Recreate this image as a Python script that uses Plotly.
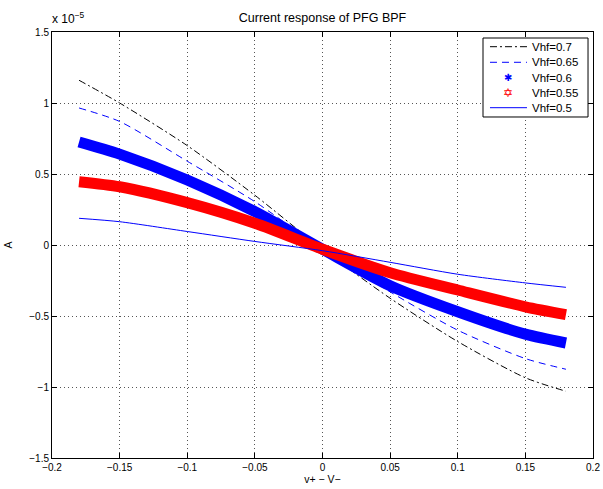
import plotly.graph_objects as go

# Data (current in units of 1e-5 A)
v_diff = [-0.18, -0.15, -0.1, -0.05, 0.0, 0.05, 0.1, 0.15, 0.18]
i_vhf_070 = [1.16, 1.00, 0.70, 0.35, -0.03, -0.375, -0.68, -0.935, -1.03]
i_vhf_065 = [0.965, 0.87, 0.59, 0.305, -0.03, -0.33, -0.60, -0.80, -0.875]
i_vhf_060 = [0.725, 0.64, 0.458, 0.235, -0.03, -0.287, -0.47, -0.628, -0.69]
i_vhf_055 = [0.446, 0.41, 0.298, 0.153, -0.03, -0.195, -0.317, -0.435, -0.49]
i_vhf_050 = [0.188, 0.164, 0.095, 0.025, -0.04, -0.122, -0.206, -0.267, -0.298]

series_names = ["Vhf=0.7", "Vhf=0.65", "Vhf=0.6", "Vhf=0.55", "Vhf=0.5"]
x_ticks = [-0.2, -0.15, -0.1, -0.05, 0, 0.05, 0.1, 0.15, 0.2]
y_ticks = [-1.5, -1, -0.5, 0, 0.5, 1, 1.5]


def fmt(t):
    s = ("%g" % t)
    return s.replace("-", "\u2212")


FONT = "Liberation Sans, Arial, Helvetica, sans-serif"
BLUE = "#0000ff"
RED = "#ff0000"
DASHDOT = "7px,3px,2px,3px"
DASH = "7px,5px"

fig = go.Figure()

fig.add_trace(go.Scatter(x=v_diff, y=i_vhf_070, mode="lines", name=series_names[0], showlegend=False,
                         line=dict(color="black", width=1, dash=DASHDOT, shape="spline", smoothing=0.7)))
fig.add_trace(go.Scatter(x=v_diff, y=i_vhf_065, mode="lines", name=series_names[1], showlegend=False,
                         line=dict(color=BLUE, width=1, dash=DASH, shape="spline", smoothing=0.7)))
fig.add_trace(go.Scatter(x=v_diff, y=i_vhf_060, mode="lines", name=series_names[2], showlegend=False,
                         line=dict(color=BLUE, width=11, shape="spline", smoothing=0.7)))
fig.add_trace(go.Scatter(x=v_diff, y=i_vhf_055, mode="lines", name=series_names[3], showlegend=False,
                         line=dict(color=RED, width=11, shape="spline", smoothing=0.7)))
fig.add_trace(go.Scatter(x=v_diff, y=i_vhf_050, mode="lines", name=series_names[4], showlegend=False,
                         line=dict(color=BLUE, width=1, shape="spline", smoothing=0.7)))

axis_common = dict(
    showline=True, linecolor="black", linewidth=1, mirror="ticks",
    ticks="inside", ticklen=5, tickcolor="black",
    showgrid=True, gridcolor="#555555", griddash="1px,3px", gridwidth=1,
    zeroline=False, tickfont=dict(family=FONT, size=10, color="black"),
    automargin=False,
)

fig.update_xaxes(range=[-0.2, 0.2], tickvals=x_ticks, ticktext=[fmt(t) for t in x_ticks],
                 title=dict(text="v+ \u2212 V\u2212", font=dict(family=FONT, size=10.5, color="black"), standoff=0),
                 **axis_common)
fig.update_yaxes(range=[-1.5, 1.5], tickvals=y_ticks, ticktext=[fmt(t) for t in y_ticks],
                 title=dict(text="A", font=dict(family=FONT, size=10.5, color="black"), standoff=14),
                 **axis_common)

# ---- manual legend (MATLAB-style compact box) ----
L_X0, L_X1 = 0.7967, 0.9908
L_Y0, L_Y1 = 0.8005, 0.9859
row_y = [0.9655, 0.9289, 0.8927, 0.8575, 0.8223]
samp_x0, samp_x1, samp_mid, text_x = 0.8096, 0.878, 0.8429, 0.8835

shapes = [dict(type="rect", xref="paper", yref="paper", x0=L_X0, x1=L_X1, y0=L_Y0, y1=L_Y1,
               line=dict(color="black", width=1), fillcolor="white", layer="above")]
shapes.append(dict(type="line", xref="paper", yref="paper", x0=samp_x0, x1=samp_x1, y0=row_y[0], y1=row_y[0],
                   line=dict(color="black", width=1, dash=DASHDOT), layer="above"))
shapes.append(dict(type="line", xref="paper", yref="paper", x0=samp_x0, x1=samp_x1, y0=row_y[1], y1=row_y[1],
                   line=dict(color=BLUE, width=1, dash=DASH), layer="above"))
shapes.append(dict(type="line", xref="paper", yref="paper", x0=samp_x0, x1=samp_x1, y0=row_y[4], y1=row_y[4],
                   line=dict(color=BLUE, width=1), layer="above"))

annotations = [dict(text="x 10<sup>\u22125</sup>", xref="paper", yref="paper", x=0, y=1,
                    xanchor="left", yanchor="bottom", yshift=4, xshift=-2, showarrow=False,
                    font=dict(family=FONT, size=12, color="black"))]
for name, yy in zip(series_names, row_y):
    annotations.append(dict(text=name, xref="paper", yref="paper", x=text_x, y=yy,
                            xanchor="left", yanchor="middle", showarrow=False,
                            font=dict(family=FONT, size=11.5, color="black")))
annotations.append(dict(text="\u2731", xref="paper", yref="paper", x=samp_mid, y=row_y[2],
                        xanchor="center", yanchor="middle", showarrow=False,
                        font=dict(family="DejaVu Sans", size=10, color=BLUE)))
annotations.append(dict(text="\u2721", xref="paper", yref="paper", x=samp_mid, y=row_y[3],
                        xanchor="center", yanchor="middle", showarrow=False,
                        font=dict(family="DejaVu Sans", size=12, color=RED)))

fig.update_layout(
    width=603, height=489,
    margin=dict(l=52, r=10, t=32, b=31),
    plot_bgcolor="white", paper_bgcolor="white",
    title=dict(text="Current response of PFG BPF", xref="paper", x=0.5, xanchor="center",
               yref="container", y=0.963, yanchor="middle",
               font=dict(family=FONT, size=12.5, color="black")),
    font=dict(family=FONT, size=10, color="black"),
    showlegend=False,
    shapes=shapes,
    annotations=annotations,
)

fig.write_html(
    "out.html",
    config={"displayModeBar": False},
    post_script="document.documentElement.style.margin='0';document.body.style.margin='0';"
                "document.body.style.overflow='hidden';",
)
